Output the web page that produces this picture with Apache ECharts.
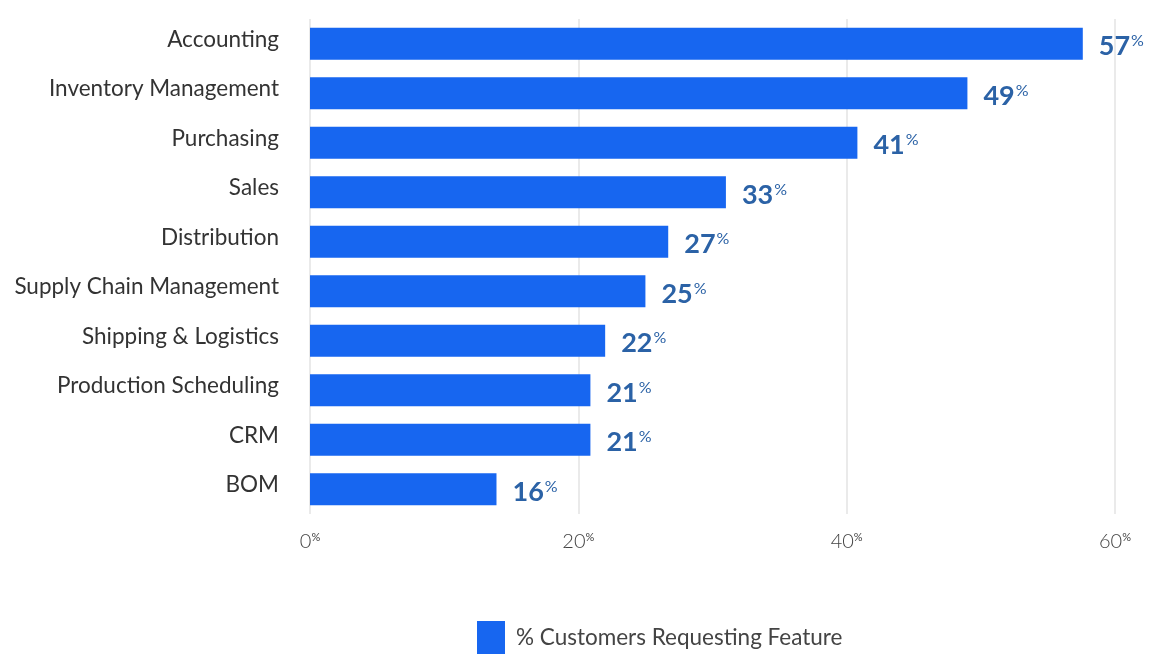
<!DOCTYPE html>
<html><head><meta charset="utf-8">
<script src="https://cdn.jsdelivr.net/npm/echarts@6/dist/echarts.min.js"></script>
<style>html,body{margin:0;padding:0;background:#fff}#c{width:1160px;height:655px}</style>
</head><body><div id="c"></div>
<script>
const categories = ["Accounting","Inventory Management","Purchasing","Sales","Distribution","Supply Chain Management","Shipping & Logistics","Production Scheduling","CRM","BOM"];
const barValues = [57.6, 49.0, 40.8, 31.0, 26.7, 25.0, 22.0, 20.9, 20.9, 13.9];
const labelValues = [57, 49, 41, 33, 27, 25, 22, 21, 21, 16];
const xTicks = [0, 20, 40, 60];
const seriesName = "% Customers Requesting Feature";

const chart = echarts.init(document.getElementById('c'));
chart.setOption({
  animation: false,
  textStyle: { fontFamily: 'Lato' },
  grid: { left: 310, right: 45, top: 19, bottom: 141, containLabel: false },
  legend: {
    bottom: -4, left: 472,
    itemWidth: 28, itemHeight: 33, itemGap: 10,
    textStyle: { fontSize: 22.5, color: '#444', fontFamily: 'Lato', padding: [0,0,0,6] },
    data: [{ name: seriesName, icon: 'rect' }]
  },
  xAxis: {
    type: 'value', min: 0, max: 60, interval: 20,
    axisLine: { show: false }, axisTick: { show: false },
    splitLine: { lineStyle: { color: '#e3e3e3', width: 1.5 } },
    axisLabel: {
      margin: 18,
      formatter: v => '{n|' + v + '}{p|%}',
      rich: {
        n: { fontSize: 20, color: '#444', fontFamily: 'Lato', fontWeight: 300 },
        p: { fontSize: 11, color: '#444', fontFamily: 'Lato', verticalAlign: 'top', padding: [0,0,8,0] }
      }
    }
  },
  yAxis: {
    type: 'category', inverse: true, data: categories,
    axisLine: { show: false }, axisTick: { show: false },
    axisLabel: {
      margin: 31,
      formatter: v => '{c|' + v + '}',
      rich: { c: { fontSize: 22.5, color: '#333', fontFamily: 'Lato', padding: [0,0,9,0] } }
    }
  },
  series: [{
    name: seriesName, type: 'bar', barWidth: 32,
    itemStyle: { color: '#1766f0' },
    data: barValues,
    label: {
      show: true, position: 'right', distance: 16, offset: [0, 3],
      formatter: p => '{n|' + labelValues[p.dataIndex] + '}{p|%}',
      rich: {
        n: { fontSize: 27, fontWeight: 'bold', color: '#2b62a6', fontFamily: 'Lato' },
        p: { fontSize: 16, color: '#2b62a6', fontFamily: 'Lato', verticalAlign: 'top', padding: [0,0,10,1] }
      }
    }
  }]
});
</script></body></html>
